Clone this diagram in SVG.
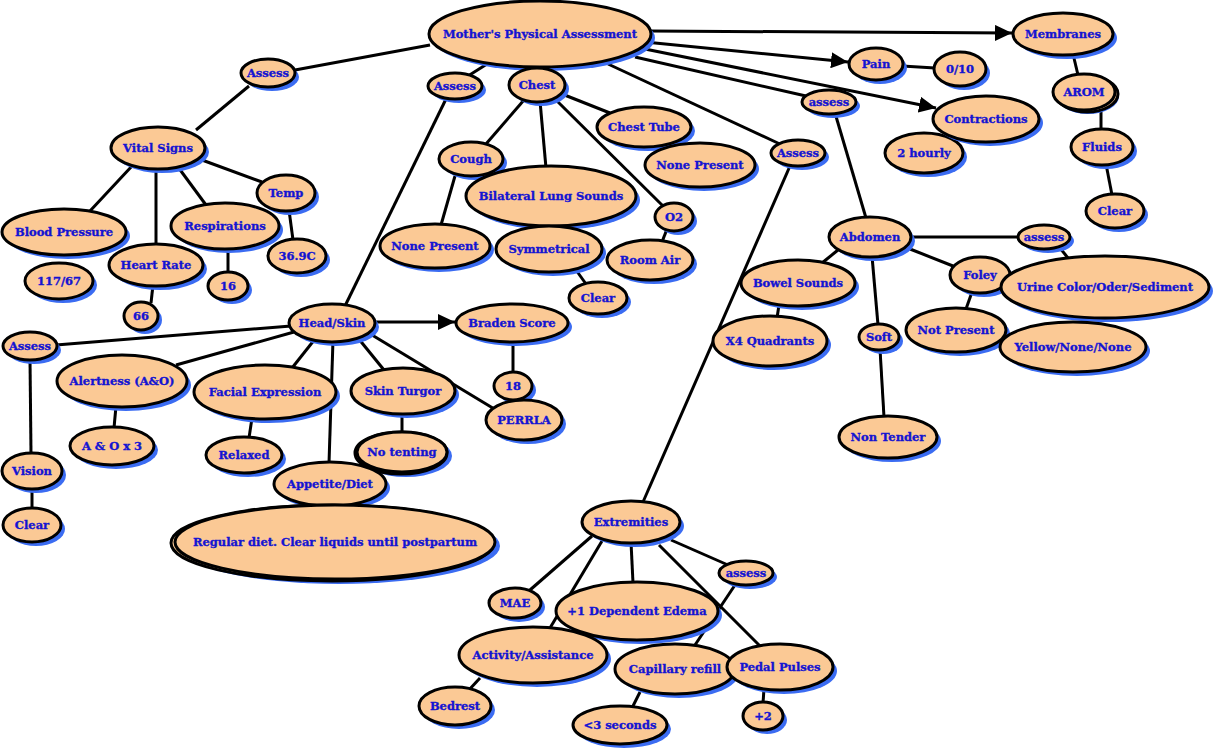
<svg xmlns="http://www.w3.org/2000/svg" width="1213" height="754" viewBox="0 0 1213 754">
<defs>
<style>
.s{fill:#3b6cf2}
.n{fill:#fbc995;stroke:#000;stroke-width:3}
.t{font-family:"DejaVu Serif",serif;font-weight:bold;font-size:11.5px;fill:#1414d2;stroke:#1414d2;stroke-width:0.35;text-anchor:middle}
.c line{stroke:#000;stroke-width:3}
</style>
<marker id="ah" markerUnits="userSpaceOnUse" markerWidth="18" markerHeight="16" refX="17" refY="8" orient="auto">
<path d="M0,0 L17,8 L0,16 z" fill="#000"/>
</marker>
</defs>
<rect width="1213" height="754" fill="#fff"/>
<g id="connectors" class="c">
<line x1="430" y1="45" x2="295" y2="70"/>
<line x1="487" y1="64" x2="468" y2="76"/>
<line x1="537" y1="60" x2="537" y2="70"/>
<line x1="650" y1="31" x2="1012" y2="33" marker-end="url(#ah)"/>
<line x1="645" y1="42" x2="848" y2="62" marker-end="url(#ah)"/>
<line x1="640" y1="48" x2="936" y2="108" marker-end="url(#ah)"/>
<line x1="635" y1="57" x2="806" y2="96"/>
<line x1="608" y1="64" x2="782" y2="145"/>
<line x1="249" y1="86" x2="196" y2="130"/>
<line x1="132" y1="166" x2="90" y2="211"/>
<line x1="156" y1="168" x2="156" y2="245"/>
<line x1="178" y1="167" x2="206" y2="205"/>
<line x1="202" y1="160" x2="262" y2="182"/>
<line x1="289" y1="210" x2="293" y2="240"/>
<line x1="228" y1="248" x2="228" y2="273"/>
<line x1="153" y1="285" x2="151" y2="303"/>
<line x1="446" y1="99" x2="345" y2="306"/>
<line x1="524" y1="100" x2="486" y2="144"/>
<line x1="540" y1="101" x2="546" y2="168"/>
<line x1="556" y1="100" x2="663" y2="206"/>
<line x1="562" y1="94" x2="610" y2="113"/>
<line x1="455" y1="176" x2="441" y2="225"/>
<line x1="576" y1="270" x2="586" y2="284"/>
<line x1="667" y1="229" x2="662" y2="242"/>
<line x1="291" y1="326" x2="56" y2="345"/>
<line x1="294" y1="332" x2="176" y2="365"/>
<line x1="315" y1="339" x2="292" y2="368"/>
<line x1="333" y1="340" x2="329" y2="463"/>
<line x1="358" y1="338" x2="384" y2="370"/>
<line x1="372" y1="335" x2="496" y2="410"/>
<line x1="376" y1="322" x2="455" y2="322" marker-end="url(#ah)"/>
<line x1="513" y1="341" x2="513" y2="373"/>
<line x1="30" y1="359" x2="31" y2="454"/>
<line x1="32" y1="488" x2="32" y2="509"/>
<line x1="116" y1="406" x2="114" y2="428"/>
<line x1="252" y1="418" x2="249" y2="438"/>
<line x1="402" y1="413" x2="402" y2="432"/>
<line x1="790" y1="166" x2="643" y2="502"/>
<line x1="835" y1="113" x2="866" y2="218"/>
<line x1="838" y1="250" x2="822" y2="263"/>
<line x1="779" y1="305" x2="777" y2="318"/>
<line x1="872" y1="256" x2="878" y2="325"/>
<line x1="880" y1="349" x2="884" y2="417"/>
<line x1="910" y1="237" x2="1019" y2="237"/>
<line x1="910" y1="249" x2="953" y2="266"/>
<line x1="1060" y1="248" x2="1068" y2="258"/>
<line x1="972" y1="292" x2="966" y2="309"/>
<line x1="902" y1="66" x2="935" y2="68"/>
<line x1="1073" y1="54" x2="1078" y2="75"/>
<line x1="1101" y1="109" x2="1101" y2="130"/>
<line x1="1106" y1="164" x2="1112" y2="195"/>
<line x1="592" y1="536" x2="530" y2="590"/>
<line x1="602" y1="541" x2="550" y2="628"/>
<line x1="631" y1="542" x2="633" y2="583"/>
<line x1="659" y1="545" x2="760" y2="646"/>
<line x1="671" y1="540" x2="728" y2="565"/>
<line x1="735" y1="585" x2="695" y2="645"/>
<line x1="640" y1="692" x2="632" y2="708"/>
<line x1="764" y1="689" x2="763" y2="703"/>
<line x1="480" y1="678" x2="468" y2="691"/>
</g>
<g id="n-mother"><ellipse class="s" cx="544" cy="38" rx="111" ry="33"/><ellipse class="n" cx="540" cy="34" rx="111" ry="33"/><text class="t" x="540" y="38">Mother's Physical Assessment</text></g>
<g id="n-assess1"><ellipse class="s" cx="272" cy="77" rx="27" ry="14"/><ellipse class="n" cx="268" cy="73" rx="27" ry="14"/><text class="t" x="268" y="77">Assess</text></g>
<g id="n-assess2"><ellipse class="s" cx="459" cy="90" rx="27" ry="13"/><ellipse class="n" cx="455" cy="86" rx="27" ry="13"/><text class="t" x="455" y="90">Assess</text></g>
<g id="n-chest"><ellipse class="s" cx="541" cy="89" rx="28" ry="17"/><ellipse class="n" cx="537" cy="85" rx="28" ry="17"/><text class="t" x="537" y="89">Chest</text></g>
<g id="n-chesttube"><ellipse class="s" cx="648" cy="131" rx="47" ry="20"/><ellipse class="n" cx="644" cy="127" rx="47" ry="20"/><text class="t" x="644" y="131">Chest Tube</text></g>
<g id="n-nonepresent2"><ellipse class="s" cx="704" cy="169" rx="55" ry="22"/><ellipse class="n" cx="700" cy="165" rx="55" ry="22"/><text class="t" x="700" y="169">None Present</text></g>
<g id="n-cough"><ellipse class="s" cx="475" cy="163" rx="32" ry="17"/><ellipse class="n" cx="471" cy="159" rx="32" ry="17"/><text class="t" x="471" y="163">Cough</text></g>
<g id="n-bilateral"><ellipse class="s" cx="555" cy="200" rx="85" ry="30"/><ellipse class="n" cx="551" cy="196" rx="85" ry="30"/><text class="t" x="551" y="200">Bilateral Lung Sounds</text></g>
<g id="n-o2"><ellipse class="s" cx="678" cy="221" rx="19" ry="14"/><ellipse class="n" cx="674" cy="217" rx="19" ry="14"/><text class="t" x="674" y="221">O2</text></g>
<g id="n-nonepresent1"><ellipse class="s" cx="439" cy="250" rx="55" ry="22"/><ellipse class="n" cx="435" cy="246" rx="55" ry="22"/><text class="t" x="435" y="250">None Present</text></g>
<g id="n-symmetrical"><ellipse class="s" cx="553" cy="253" rx="53" ry="23"/><ellipse class="n" cx="549" cy="249" rx="53" ry="23"/><text class="t" x="549" y="253">Symmetrical</text></g>
<g id="n-roomair"><ellipse class="s" cx="654" cy="264" rx="43" ry="20"/><ellipse class="n" cx="650" cy="260" rx="43" ry="20"/><text class="t" x="650" y="264">Room Air</text></g>
<g id="n-clearchest"><ellipse class="s" cx="602" cy="302" rx="29" ry="16"/><ellipse class="n" cx="598" cy="298" rx="29" ry="16"/><text class="t" x="598" y="302">Clear</text></g>
<g id="n-vital"><ellipse class="s" cx="162" cy="152" rx="47" ry="21"/><ellipse class="n" cx="158" cy="148" rx="47" ry="21"/><text class="t" x="158" y="152">Vital Signs</text></g>
<g id="n-bp"><ellipse class="s" cx="68" cy="236" rx="62" ry="23"/><ellipse class="n" cx="64" cy="232" rx="62" ry="23"/><text class="t" x="64" y="236">Blood Pressure</text></g>
<g id="n-bpval"><ellipse class="s" cx="63" cy="285" rx="34" ry="18"/><ellipse class="n" cx="59" cy="281" rx="34" ry="18"/><text class="t" x="59" y="285">117/67</text></g>
<g id="n-hr"><ellipse class="s" cx="160" cy="269" rx="47" ry="21"/><ellipse class="n" cx="156" cy="265" rx="47" ry="21"/><text class="t" x="156" y="269">Heart Rate</text></g>
<g id="n-hrval"><ellipse class="s" cx="145" cy="320" rx="17" ry="14"/><ellipse class="n" cx="141" cy="316" rx="17" ry="14"/><text class="t" x="141" y="320">66</text></g>
<g id="n-resp"><ellipse class="s" cx="229" cy="230" rx="54" ry="23"/><ellipse class="n" cx="225" cy="226" rx="54" ry="23"/><text class="t" x="225" y="230">Respirations</text></g>
<g id="n-respval"><ellipse class="s" cx="232" cy="290" rx="20" ry="14"/><ellipse class="n" cx="228" cy="286" rx="20" ry="14"/><text class="t" x="228" y="290">16</text></g>
<g id="n-temp"><ellipse class="s" cx="290" cy="197" rx="29" ry="18"/><ellipse class="n" cx="286" cy="193" rx="29" ry="18"/><text class="t" x="286" y="197">Temp</text></g>
<g id="n-tempval"><ellipse class="s" cx="301" cy="260" rx="29" ry="17"/><ellipse class="n" cx="297" cy="256" rx="29" ry="17"/><text class="t" x="297" y="260">36.9C</text></g>
<g id="n-headskin"><ellipse class="s" cx="336" cy="327" rx="43" ry="19"/><ellipse class="n" cx="332" cy="323" rx="43" ry="19"/><text class="t" x="332" y="327">Head/Skin</text></g>
<g id="n-braden"><ellipse class="s" cx="516" cy="327" rx="56" ry="19"/><ellipse class="n" cx="512" cy="323" rx="56" ry="19"/><text class="t" x="512" y="327">Braden Score</text></g>
<g id="n-bradenval"><ellipse class="s" cx="517" cy="390" rx="19" ry="14"/><ellipse class="n" cx="513" cy="386" rx="19" ry="14"/><text class="t" x="513" y="390">18</text></g>
<g id="n-perrla"><ellipse class="s" cx="528" cy="424" rx="38" ry="20"/><ellipse class="n" cx="524" cy="420" rx="38" ry="20"/><text class="t" x="524" y="424">PERRLA</text></g>
<g id="n-assessl"><ellipse class="s" cx="34" cy="350" rx="27" ry="14"/><ellipse class="n" cx="30" cy="346" rx="27" ry="14"/><text class="t" x="30" y="350">Assess</text></g>
<g id="n-vision"><ellipse class="s" cx="36" cy="475" rx="30" ry="18"/><ellipse class="n" cx="32" cy="471" rx="30" ry="18"/><text class="t" x="32" y="475">Vision</text></g>
<g id="n-clearl"><ellipse class="s" cx="36" cy="529" rx="29" ry="17"/><ellipse class="n" cx="32" cy="525" rx="29" ry="17"/><text class="t" x="32" y="529">Clear</text></g>
<g id="n-alert"><ellipse class="s" cx="126" cy="385" rx="65" ry="26"/><ellipse class="n" cx="122" cy="381" rx="65" ry="26"/><text class="t" x="122" y="385">Alertness (A&amp;O)</text></g>
<g id="n-ao"><ellipse class="s" cx="116" cy="450" rx="42" ry="19"/><ellipse class="n" cx="112" cy="446" rx="42" ry="19"/><text class="t" x="112" y="450">A &amp; O x 3</text></g>
<g id="n-facial"><ellipse class="s" cx="269" cy="396" rx="71" ry="27"/><ellipse class="n" cx="265" cy="392" rx="71" ry="27"/><text class="t" x="265" y="396">Facial Expression</text></g>
<g id="n-relaxed"><ellipse class="s" cx="248" cy="459" rx="38" ry="18"/><ellipse class="n" cx="244" cy="455" rx="38" ry="18"/><text class="t" x="244" y="459">Relaxed</text></g>
<g id="n-turgor"><ellipse class="s" cx="407" cy="395" rx="52" ry="23"/><ellipse class="n" cx="403" cy="391" rx="52" ry="23"/><text class="t" x="403" y="395">Skin Turgor</text></g>
<g id="n-tenting"><ellipse class="s" cx="406" cy="456" rx="46" ry="21"/><ellipse class="n" cx="401" cy="453" rx="46" ry="21"/><ellipse class="n" cx="402" cy="452" rx="45" ry="20"/><text class="t" x="402" y="456">No tenting</text></g>
<g id="n-appetite"><ellipse class="s" cx="334" cy="488" rx="56" ry="22"/><ellipse class="n" cx="330" cy="484" rx="56" ry="22"/><text class="t" x="330" y="488">Appetite/Diet</text></g>
<g id="n-diet"><ellipse class="s" cx="339" cy="546" rx="161" ry="38"/><ellipse class="n" cx="332" cy="543" rx="161" ry="38"/><ellipse class="n" cx="335" cy="542" rx="160" ry="37"/><text class="t" x="335" y="546">Regular diet. Clear liquids until postpartum</text></g>
<g id="n-assess3"><ellipse class="s" cx="802" cy="157" rx="27" ry="13"/><ellipse class="n" cx="798" cy="153" rx="27" ry="13"/><text class="t" x="798" y="157">Assess</text></g>
<g id="n-extremities"><ellipse class="s" cx="635" cy="526" rx="49" ry="21"/><ellipse class="n" cx="631" cy="522" rx="49" ry="21"/><text class="t" x="631" y="526">Extremities</text></g>
<g id="n-mae"><ellipse class="s" cx="519" cy="607" rx="26" ry="15"/><ellipse class="n" cx="515" cy="603" rx="26" ry="15"/><text class="t" x="515" y="607">MAE</text></g>
<g id="n-edema"><ellipse class="s" cx="641" cy="615" rx="81" ry="29"/><ellipse class="n" cx="637" cy="611" rx="81" ry="29"/><text class="t" x="637" y="615">+1 Dependent Edema</text></g>
<g id="n-assesse"><ellipse class="s" cx="750" cy="577" rx="27" ry="12"/><ellipse class="n" cx="746" cy="573" rx="27" ry="12"/><text class="t" x="746" y="577">assess</text></g>
<g id="n-activity"><ellipse class="s" cx="537" cy="659" rx="74" ry="28"/><ellipse class="n" cx="533" cy="655" rx="74" ry="28"/><text class="t" x="533" y="659">Activity/Assistance</text></g>
<g id="n-bedrest"><ellipse class="s" cx="459" cy="710" rx="36" ry="19"/><ellipse class="n" cx="455" cy="706" rx="36" ry="19"/><text class="t" x="455" y="710">Bedrest</text></g>
<g id="n-cap"><ellipse class="s" cx="679" cy="673" rx="60" ry="25"/><ellipse class="n" cx="675" cy="669" rx="60" ry="25"/><text class="t" x="675" y="673">Capillary refill</text></g>
<g id="n-pedal"><ellipse class="s" cx="784" cy="671" rx="53" ry="23"/><ellipse class="n" cx="780" cy="667" rx="53" ry="23"/><text class="t" x="780" y="671">Pedal Pulses</text></g>
<g id="n-seconds"><ellipse class="s" cx="624" cy="729" rx="47" ry="19"/><ellipse class="n" cx="620" cy="725" rx="47" ry="19"/><text class="t" x="620" y="729">&lt;3 seconds</text></g>
<g id="n-plus2"><ellipse class="s" cx="767" cy="720" rx="20" ry="14"/><ellipse class="n" cx="763" cy="716" rx="20" ry="14"/><text class="t" x="763" y="720">+2</text></g>
<g id="n-assesst"><ellipse class="s" cx="833" cy="106" rx="27" ry="12"/><ellipse class="n" cx="829" cy="102" rx="27" ry="12"/><text class="t" x="829" y="106">assess</text></g>
<g id="n-abdomen"><ellipse class="s" cx="874" cy="241" rx="41" ry="20"/><ellipse class="n" cx="870" cy="237" rx="41" ry="20"/><text class="t" x="870" y="241">Abdomen</text></g>
<g id="n-assessa"><ellipse class="s" cx="1048" cy="241" rx="26" ry="12"/><ellipse class="n" cx="1044" cy="237" rx="26" ry="12"/><text class="t" x="1044" y="241">assess</text></g>
<g id="n-bowel"><ellipse class="s" cx="802" cy="287" rx="57" ry="23"/><ellipse class="n" cx="798" cy="283" rx="57" ry="23"/><text class="t" x="798" y="287">Bowel Sounds</text></g>
<g id="n-x4"><ellipse class="s" cx="774" cy="345" rx="57" ry="25"/><ellipse class="n" cx="770" cy="341" rx="57" ry="25"/><text class="t" x="770" y="345">X4 Quadrants</text></g>
<g id="n-soft"><ellipse class="s" cx="883" cy="341" rx="20" ry="13"/><ellipse class="n" cx="879" cy="337" rx="20" ry="13"/><text class="t" x="879" y="341">Soft</text></g>
<g id="n-nontender"><ellipse class="s" cx="892" cy="441" rx="49" ry="21"/><ellipse class="n" cx="888" cy="437" rx="49" ry="21"/><text class="t" x="888" y="441">Non Tender</text></g>
<g id="n-foley"><ellipse class="s" cx="984" cy="279" rx="30" ry="18"/><ellipse class="n" cx="980" cy="275" rx="30" ry="18"/><text class="t" x="980" y="279">Foley</text></g>
<g id="n-urine"><ellipse class="s" cx="1109" cy="291" rx="104" ry="31"/><ellipse class="n" cx="1105" cy="287" rx="104" ry="31"/><text class="t" x="1105" y="291">Urine Color/Oder/Sediment</text></g>
<g id="n-notpresent"><ellipse class="s" cx="960" cy="334" rx="50" ry="22"/><ellipse class="n" cx="956" cy="330" rx="50" ry="22"/><text class="t" x="956" y="334">Not Present</text></g>
<g id="n-yellow"><ellipse class="s" cx="1077" cy="351" rx="73" ry="25"/><ellipse class="n" cx="1073" cy="347" rx="73" ry="25"/><text class="t" x="1073" y="351">Yellow/None/None</text></g>
<g id="n-membranes"><ellipse class="s" cx="1067" cy="38" rx="50" ry="21"/><ellipse class="n" cx="1063" cy="34" rx="50" ry="21"/><text class="t" x="1063" y="38">Membranes</text></g>
<g id="n-pain"><ellipse class="s" cx="880" cy="68" rx="27" ry="16"/><ellipse class="n" cx="876" cy="64" rx="27" ry="16"/><text class="t" x="876" y="68">Pain</text></g>
<g id="n-painval"><ellipse class="s" cx="964" cy="73" rx="26" ry="17"/><ellipse class="n" cx="960" cy="69" rx="26" ry="17"/><text class="t" x="960" y="73">0/10</text></g>
<g id="n-hourly"><ellipse class="s" cx="928" cy="157" rx="39" ry="20"/><ellipse class="n" cx="924" cy="153" rx="39" ry="20"/><text class="t" x="924" y="157">2 hourly</text></g>
<g id="n-contractions"><ellipse class="s" cx="990" cy="123" rx="53" ry="23"/><ellipse class="n" cx="986" cy="119" rx="53" ry="23"/><text class="t" x="986" y="123">Contractions</text></g>
<g id="n-arom"><ellipse class="s" cx="1088" cy="96" rx="31" ry="18"/><ellipse class="n" cx="1087" cy="94" rx="31" ry="18"/><ellipse class="n" cx="1084" cy="92" rx="31" ry="18"/><text class="t" x="1084" y="96">AROM</text></g>
<g id="n-fluids"><ellipse class="s" cx="1106" cy="151" rx="31" ry="18"/><ellipse class="n" cx="1102" cy="147" rx="31" ry="18"/><text class="t" x="1102" y="151">Fluids</text></g>
<g id="n-clearr"><ellipse class="s" cx="1119" cy="215" rx="29" ry="17"/><ellipse class="n" cx="1115" cy="211" rx="29" ry="17"/><text class="t" x="1115" y="215">Clear</text></g>
</svg>
